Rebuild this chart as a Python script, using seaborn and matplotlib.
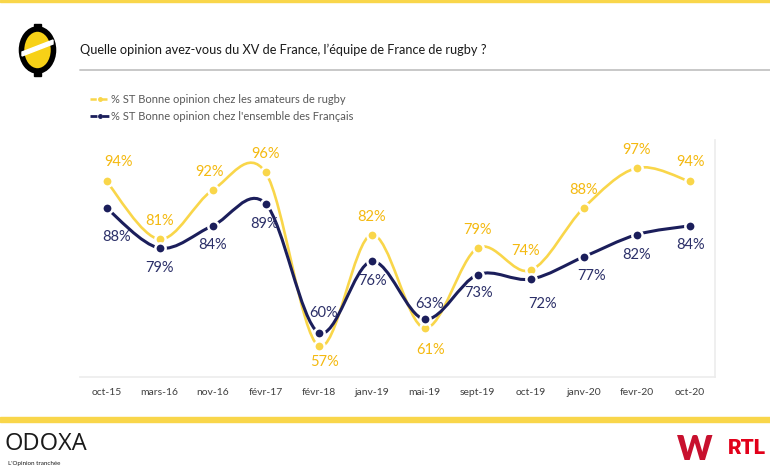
import matplotlib
matplotlib.use("Agg")
import matplotlib.pyplot as plt
from matplotlib.path import Path
from matplotlib.patches import PathPatch, Ellipse, Rectangle, Polygon
from matplotlib.lines import Line2D
import seaborn as sns
import pandas as pd

# data
months = ["oct-15", "mars-16", "nov-16", "févr-17", "févr-18", "janv-19",
          "mai-19", "sept-19", "oct-19", "janv-20", "fevr-20", "oct-20"]
amateurs = [94, 81, 92, 96, 57, 82, 61, 79, 74, 88, 97, 94]
francais = [88, 79, 84, 89, 60, 76, 63, 73, 72, 77, 82, 84]

label_amateurs = "% ST Bonne opinion chez les amateurs de rugby"
label_francais = "% ST Bonne opinion chez l'ensemble des Français"

# label offsets in pixels (dx, dy, screen y down)
off_amateurs = [(12, -19), (0, -18), (-3, -18), (0, -18), (6, 16), (0, -18),
                (6, 22), (0, -18), (-5, -19), (0, -18), (0, -18), (1, -19)]
off_francais = [(10, 29), (0, 20), (0, 19), (-1, 20), (5, -20), (1, 20),
                (5, -15), (1, 18), (12, 25), (8, 19), (0, 20), (1, 19)]

YELLOW = "#F9D64A"
YELLOW_TXT = "#F4B910"
NAVY = "#1B1E5B"
NAVY_TXT = "#2B2F68"

sns.set_theme(style="white")
plt.rcParams["font.family"] = ["Lato", "DejaVu Sans"]

df = pd.DataFrame({"x": range(len(months)), "mois": months,
                   "amateurs": amateurs, "francais": francais})

fig = plt.figure(figsize=(7.7, 4.72), dpi=100)
W, H = 770, 472
ax = fig.add_axes([80 / W, (H - 377) / H, 635 / W, 237 / H])


def smooth_path(xs, ys):
    pts = list(zip(xs, ys))
    n = len(pts)
    verts = [pts[0]]
    codes = [Path.MOVETO]
    for i in range(n - 1):
        p0 = pts[i - 1] if i > 0 else pts[i]
        p1, p2 = pts[i], pts[i + 1]
        p3 = pts[i + 2] if i + 2 < n else p2
        c1 = (p1[0] + (p2[0] - p0[0]) / 6, p1[1] + (p2[1] - p0[1]) / 6)
        c2 = (p2[0] - (p3[0] - p1[0]) / 6, p2[1] - (p3[1] - p1[1]) / 6)
        verts += [c1, c2, p2]
        codes += [Path.CURVE4] * 3
    return Path(verts, codes)


for col, color, lw, z in [("amateurs", YELLOW, 1.9, 2), ("francais", NAVY, 2.2, 3)]:
    ax.add_patch(PathPatch(smooth_path(df["x"], df[col]), fill=False,
                           edgecolor=color, lw=lw, zorder=z, capstyle="round"))
    sns.scatterplot(data=df, x="x", y=col, ax=ax, color=color, s=55,
                    edgecolor="white", linewidth=1.8, zorder=z + 0.5, legend=False)

for i in range(len(months)):
    dx, dy = off_amateurs[i]
    ax.annotate(f"{amateurs[i]}%", (i, amateurs[i]), xytext=(dx, -dy),
                textcoords="offset pixels", ha="center", va="center",
                fontsize=10.5, color=YELLOW_TXT)
    dx, dy = off_francais[i]
    ax.annotate(f"{francais[i]}%", (i, francais[i]), xytext=(dx, -dy),
                textcoords="offset pixels", ha="center", va="center",
                fontsize=10.5, color=NAVY_TXT)

ax.set_xlim(-0.5, 11.48)
ax.set_ylim(50, 103.3)
ax.set_xticks(range(len(months)))
ax.set_xticklabels(months, fontsize=7.5, color="#404040")
ax.set_yticks([])
ax.set_xlabel("")
ax.set_ylabel("")
ax.tick_params(axis="x", length=0, pad=8)
for s in ["top", "left"]:
    ax.spines[s].set_visible(False)
for s in ["bottom", "right"]:
    ax.spines[s].set_color("#ECECEC")
    ax.spines[s].set_linewidth(1.2)

handles = [
    Line2D([0], [0], color=YELLOW, lw=1.8, linestyle=(0, (2.5, 1.8)),
           marker="o", markersize=2.5),
    Line2D([0], [0], color=NAVY, lw=2.0, linestyle=(0, (2.5, 1.8)),
           marker="o", markersize=2.5),
]
fig.legend(handles, [label_amateurs, label_francais], loc="upper left",
           bbox_to_anchor=(84 / W, 1 - 88 / H), frameon=False, fontsize=8.0,
           handlelength=1.9, handletextpad=0.0, labelspacing=0.55,
           labelcolor="#595959", borderpad=0)

# title and header decorations
fig.text(80 / W, 1 - 50 / H, "Quelle opinion avez-vous du XV de France, l’équipe de France de rugby ?",
         fontsize=9.2, color="#1A1A1A", ha="left", va="center")
fig.add_artist(Line2D([80 / W, 1], [1 - 70 / H, 1 - 70 / H], color="#C4C4C4", lw=1.3))
fig.add_artist(Rectangle((0, 1 - 2 / H), 1, 2 / H, color=YELLOW, transform=fig.transFigure))
fig.add_artist(Rectangle((0, 1 - 422 / H), 1, 5 / H, color=YELLOW, transform=fig.transFigure))

# logo icon top-left
fig.add_artist(Rectangle((34 / W, 1 - 30 / H), 7 / W, 6 / H, color="black", transform=fig.transFigure))
fig.add_artist(Rectangle((34 / W, 1 - 76 / H), 7 / W, 6 / H, color="black", transform=fig.transFigure))
fig.add_artist(Ellipse((37.5 / W, 1 - 50 / H), 32 / W, 42 / H, facecolor="#F7D117",
                       edgecolor="black", lw=4, transform=fig.transFigure))
fig.add_artist(Polygon([(22 / W, 1 - 56 / H), (53 / W, 1 - 44 / H), (53 / W, 1 - 40 / H),
                        (22 / W, 1 - 52 / H)], closed=True, color="white",
                       transform=fig.transFigure))

# footer logos
fig.text(5 / W, 1 - 444 / H, "ODOXA", fontsize=17, color="#1A1A1A", ha="left",
         va="center", family=["Open Sans", "DejaVu Sans"])
fig.text(8 / W, 1 - 464 / H, "L'Opinion tranchée", fontsize=4.5, color="#1A1A1A",
         ha="left", va="center")
fig.text(695 / W, 1 - 450 / H, "W", fontsize=24, color="#C8102E", ha="center",
         va="center", fontweight="heavy")
fig.text(747 / W, 1 - 449 / H, "RTL", fontsize=15, color="#E2001A", ha="center",
         va="center", fontweight="heavy", family=["Roboto", "DejaVu Sans"])

fig.savefig("out.png", dpi=100)
